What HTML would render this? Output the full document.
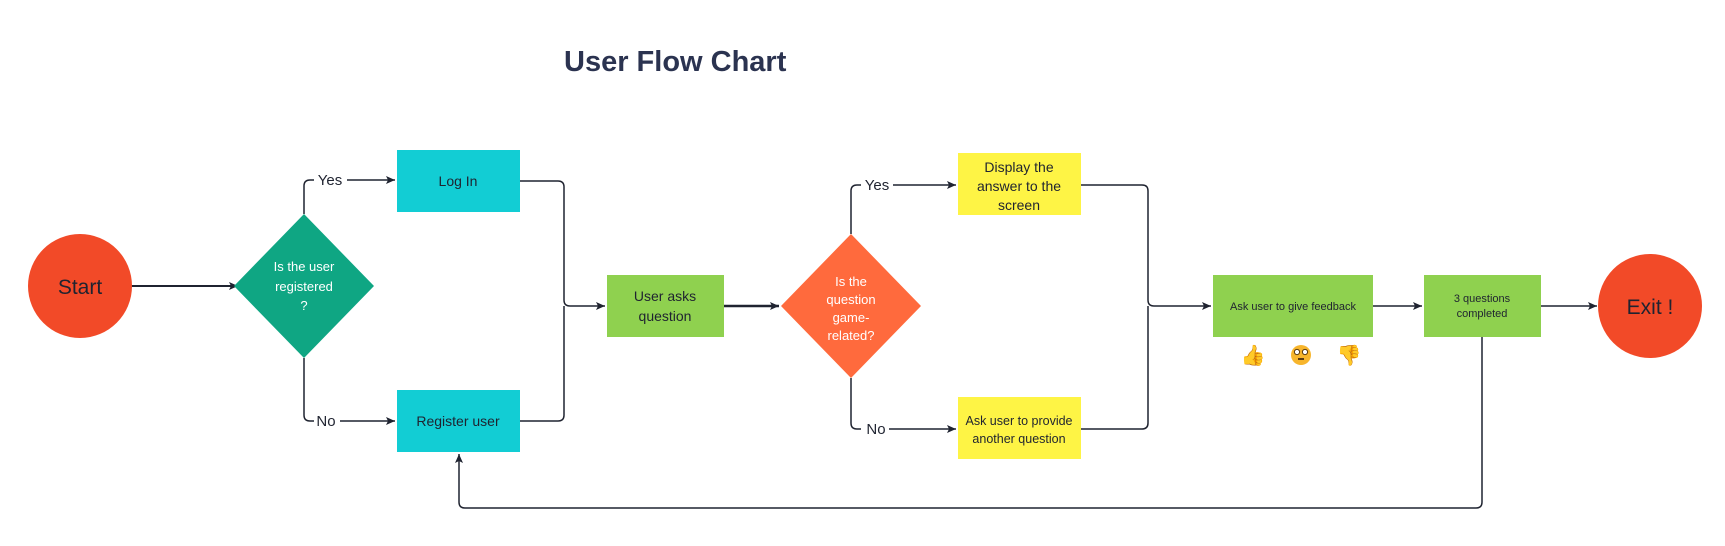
<!DOCTYPE html>
<html><head><meta charset="utf-8"><style>
html,body{margin:0;padding:0;background:#fff;}
svg{display:block;}
text{font-family:"Liberation Sans","DejaVu Sans",sans-serif;fill:#1f2330;}
</style></head><body>
<svg width="1725" height="546" viewBox="0 0 1725 546" xmlns="http://www.w3.org/2000/svg">
<defs>
<marker id="a" markerWidth="10" markerHeight="10" refX="9" refY="5" orient="auto" markerUnits="userSpaceOnUse">
<path d="M0,1 L9,5 L0,9 L2,5 Z" fill="#1f2330"/></marker>
</defs>
<text x="564" y="71" font-size="29" font-weight="bold" style="fill:#2b3350">User Flow Chart</text>
<g fill="none" stroke="#1f2330" stroke-width="1.5">
<path d="M127,286 H238" stroke-width="2" marker-end="url(#a)"/>
<path d="M304,214 V186 Q304,180 310,180 H314 M347,180 H395" marker-end="url(#a)"/>
<path d="M304,358 V415 Q304,421 310,421 H314 M340,421 H395" marker-end="url(#a)"/>
<path d="M520,181 H558 Q564,181 564,187 V300 Q564,306 570,306 H605" marker-end="url(#a)"/>
<path d="M520,421 H558 Q564,421 564,415 V306"/>
<path d="M724,306 H779" stroke-width="2.5" marker-end="url(#a)"/>
<path d="M851,234 V191 Q851,185 857,185 H861 M893,185 H956" marker-end="url(#a)"/>
<path d="M851,378 V423 Q851,429 857,429 H861 M889,429 H956" marker-end="url(#a)"/>
<path d="M1081,185 H1142 Q1148,185 1148,191 V300 Q1148,306 1154,306 H1211" marker-end="url(#a)"/>
<path d="M1081,429 H1142 Q1148,429 1148,423 V306"/>
<path d="M1373,306 H1422" marker-end="url(#a)"/>
<path d="M1541,306 H1597" marker-end="url(#a)"/>
<path d="M1482,337 V502 Q1482,508 1476,508 H465 Q459,508 459,502 V454" marker-end="url(#a)"/>
</g>
<circle cx="80" cy="286" r="52" fill="#f24a28"/>
<text x="80" y="294" font-size="21" text-anchor="middle">Start</text>
<polygon points="304,214 374,286 304,358 234,286" fill="#0fa683"/>
<g font-size="13" text-anchor="middle"><text x="304" y="271" style="fill:#fff">Is the user</text><text x="304" y="291" style="fill:#fff">registered</text><text x="304" y="310" style="fill:#fff">?</text></g>
<text x="330" y="185" font-size="15" text-anchor="middle">Yes</text>
<text x="326" y="426" font-size="15" text-anchor="middle">No</text>
<rect x="397" y="150" width="123" height="62" fill="#12cdd4"/>
<text x="458" y="186" font-size="14" text-anchor="middle">Log In</text>
<rect x="397" y="390" width="123" height="62" fill="#12cdd4"/>
<text x="458" y="426" font-size="14" text-anchor="middle">Register user</text>
<rect x="607" y="275" width="117" height="62" fill="#8fd14f"/>
<text x="665" y="301" font-size="14" text-anchor="middle">User asks</text>
<text x="665" y="321" font-size="14" text-anchor="middle">question</text>
<polygon points="851,234 921,306 851,378 781,306" fill="#ff6a3d"/>
<g font-size="13" text-anchor="middle"><text x="851" y="286" style="fill:#fff">Is the</text><text x="851" y="304" style="fill:#fff">question</text><text x="851" y="322" style="fill:#fff">game-</text><text x="851" y="340" style="fill:#fff">related?</text></g>
<text x="877" y="190" font-size="15" text-anchor="middle">Yes</text>
<text x="876" y="434" font-size="15" text-anchor="middle">No</text>
<rect x="958" y="153" width="123" height="62" fill="#fef445"/>
<g font-size="14" text-anchor="middle"><text x="1019" y="172">Display the</text><text x="1019" y="191">answer to the</text><text x="1019" y="210">screen</text></g>
<rect x="958" y="397" width="123" height="62" fill="#fef445"/>
<g font-size="12.5" text-anchor="middle"><text x="1019" y="425">Ask user to provide</text><text x="1019" y="443">another question</text></g>
<rect x="1213" y="275" width="160" height="62" fill="#8fd14f"/>
<text x="1293" y="310" font-size="11" text-anchor="middle">Ask user to give feedback</text>
<rect x="1424" y="275" width="117" height="62" fill="#8fd14f"/>
<text x="1482" y="302" font-size="11" text-anchor="middle">3 questions</text>
<text x="1482" y="317" font-size="11" text-anchor="middle">completed</text>
<circle cx="1650" cy="306" r="52" fill="#f24a28"/>
<text x="1650" y="314" font-size="21" text-anchor="middle">Exit !</text>
<g font-size="20" text-anchor="middle"><text x="1253" y="362">👍</text><text x="1349" y="362">👎</text></g>
<circle cx="1301" cy="355" r="10" fill="#f7b52c"/>
<circle cx="1297" cy="352" r="2.6" fill="#fff" stroke="#5a3a10" stroke-width="1"/>
<circle cx="1305" cy="352" r="2.6" fill="#fff" stroke="#5a3a10" stroke-width="1"/>
<rect x="1298" y="358" width="6" height="2" fill="#5a3a10"/>
</svg>
</body></html>
